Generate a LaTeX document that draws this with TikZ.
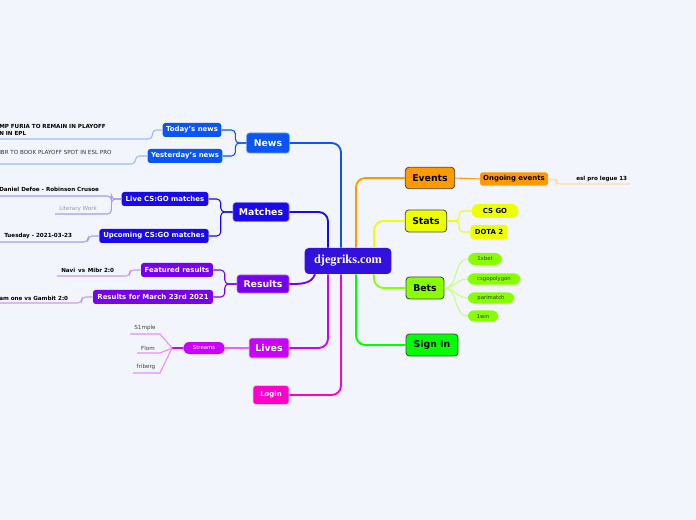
\documentclass[tikz,border=0pt]{standalone}
\usepackage{fontspec}
\setmainfont{DejaVu Sans}
\newfontfamily\hubfont{Liberation Serif}
\usetikzlibrary{positioning, calc}

\definecolor{bgcol}{HTML}{F3F5FD}
\definecolor{hubcol}{HTML}{3311DD}
\definecolor{newscol}{HTML}{0A55F5}
\definecolor{matchcol}{HTML}{1A08EE}
\definecolor{rescol}{HTML}{7700EE}
\definecolor{livecol}{HTML}{CC00FF}
\definecolor{logincol}{HTML}{FF00CC}
\definecolor{evcol}{HTML}{FF9900}
\definecolor{statcol}{HTML}{EEFF00}
\definecolor{betcol}{HTML}{88FF00}
\definecolor{signcol}{HTML}{00FF00}
\definecolor{edgecol}{HTML}{444444}

\begin{document}
\begin{tikzpicture}[
      x=0.75pt, y=-0.75pt,
      hub/.style={rectangle, rounded corners=3pt, fill=hubcol, text=white,
                  font=\hubfont\bfseries\fontsize{9.2}{10}\selectfont,
                  minimum width=65pt, minimum height=19.5pt, inner sep=1pt},
      lmain/.style={rectangle, rounded corners=2pt, fill=#1, draw=#1!60!white,
                    text=white, font=\bfseries\fontsize{7}{8}\selectfont,
                    minimum height=15pt, inner sep=1pt},
      rmain/.style={rectangle, rounded corners=2.5pt, fill=#1, draw=edgecol,
                    line width=0.6pt, text=black,
                    font=\bfseries\fontsize{7}{8}\selectfont,
                    minimum height=16pt, inner sep=1pt},
      sub/.style={rectangle, rounded corners=2pt, fill=#1, text=white,
                  font=\bfseries\fontsize{5.2}{6}\selectfont,
                  minimum height=10.5pt, inner sep=1pt},
      pill/.style={rectangle, rounded corners=5pt, fill=#1, text=black!80,
                   font=\fontsize{4}{5}\selectfont,
                   minimum height=8.5pt, inner sep=1pt},
      leaf/.style={inner sep=0pt, font=\bfseries\fontsize{4.2}{5.3}\selectfont,
                   align=left, text=black},
      thin/.style={inner sep=0pt, font=\fontsize{4.2}{5}\selectfont, text=black!75},
      trunk/.style={line width=1.4pt, rounded corners=7pt, draw=#1},
      twig/.style={line width=0.8pt, rounded corners=3pt, draw=#1}
    ]
    % Background
    \fill[bgcol] (0,0) rectangle (696,520);
    \useasboundingbox (0,0) rectangle (696,520);

    % Centre
    \node[hub] (hub) at (348,261) {djegriks.com};

    % Left branches
    \node[lmain=newscol, minimum width=32pt] (news) at (268,143) {News};
    \node[sub=newscol, minimum width=44pt] (todays) at (192,130) {Today's news};
    \node[sub=newscol, minimum width=56pt] (yesterdays) at (185,156) {Yesterday's news};
    \node[leaf, anchor=west] (furia) at (-1,129.5) {MP FURIA TO REMAIN IN PLAYOFF\\N IN EPL};
    \node[thin, anchor=west, text=black!80] (ibr) at (-1,152) {IBR TO BOOK PLAYOFF SPOT IN ESL PRO};

    \node[lmain=matchcol, minimum width=42pt, minimum height=14pt] (matches) at (261,212) {Matches};
    \node[sub=matchcol, minimum width=65pt] (live) at (165,199) {Live CS:GO matches};
    \node[sub=matchcol, minimum width=82pt] (upcoming) at (154,236) {Upcoming CS:GO matches};
    \node[leaf, anchor=west] (defoe) at (-1,189) {Daniel Defoe - Robinson Crusoe};
    \node[thin, anchor=west, text=black!40] (literary) at (59,209) {Literary Work};
    \node[leaf, anchor=west] (tuesday) at (4,236) {Tuesday - 2021-03-23};

    \node[lmain=rescol, minimum width=39pt, minimum height=13.5pt] (results) at (263,284) {Results};
    \node[sub=rescol, minimum width=54pt] (featured) at (177,270) {Featured results};
    \node[sub=rescol, minimum width=90pt] (march) at (153,297) {Results for March 23rd 2021};
    \node[leaf, anchor=west] (navi) at (61,270) {Navi\enspace vs\enspace Mibr 2:0};
    \node[leaf, anchor=west] (gambit) at (-1,298) {am one vs Gambit 2:0};

    \node[lmain=livecol, minimum width=30pt, draw=black!15] (lives) at (269,348) {Lives};
    \node[sub=livecol, rounded corners=4.5pt, minimum width=31pt, minimum height=9pt,
          font=\fontsize{4}{5}\selectfont] (streams) at (204,348) {Streams};
    \node[thin] (simple) at (145,328) {S1mple};
    \node[thin] (flom) at (148,348) {Flom};
    \node[thin] (friberg) at (146,367) {friberg};

    \node[lmain=logincol, minimum width=27pt, minimum height=14pt, draw=black!15,
          font=\bfseries\fontsize{5.2}{6}\selectfont] (login) at (271,395) {Login};

    % Right branches
    \node[rmain=evcol, minimum width=37pt] (events) at (430,178) {Events};
    \node[sub=evcol, text=black, minimum width=51pt, minimum height=10pt] (ongoing) at (514,179) {Ongoing events};
    \node[leaf, anchor=west] (esl) at (576,179) {esl pro legue 13};

    \node[rmain=statcol, minimum width=31pt, minimum height=16.5pt] (stats) at (426,221) {Stats};
    \node[sub=statcol, text=black, rounded corners=5pt, minimum width=35pt] (csgo) at (495,211) {CS GO};
    \node[sub=statcol, text=black, minimum width=28pt] (dota) at (489,232) {DOTA 2};

    \node[rmain=betcol, minimum width=28.5pt, minimum height=16.5pt] (bets) at (425,288) {Bets};
    \node[pill=betcol, minimum width=25.5pt, minimum height=9pt] (xbet) at (485,259) {1xbet};
    \node[pill=betcol, minimum width=40pt] (polygon) at (494,279) {csgopolygon};
    \node[pill=betcol, minimum width=35pt] (parimatch) at (491,298) {parimatch};
    \node[pill=betcol, minimum width=23pt] (onewin) at (483,316) {1win};

    \node[rmain=signcol, minimum width=39pt, minimum height=16.5pt] (signin) at (432,345) {Sign In};

    % Underline ends
    \coordinate (fu) at (0,139);
    \coordinate (iu) at (0,164);
    \coordinate (du) at (0,196);
    \coordinate (lu) at (55,214);
    \coordinate (tu) at (0,242);
    \coordinate (nu) at (57,276);
    \coordinate (gu) at (0,303);
    \coordinate (eu) at (630,184);
    \coordinate (sfan) at (172,348);
    \coordinate (sk1) at (160,334);
    \coordinate (sk2) at (160,353);
    \coordinate (sk3) at (160,373);
    \coordinate (su1) at (130,334);
    \coordinate (su2) at (137,353);
    \coordinate (su3) at (133,373);

    % Trunks from the centre
    \draw[trunk=newscol] ($(hub.north)+(-7,0)$) |- (news.east);
    \draw[trunk=matchcol] ($(hub.north)+(-20,0)$) |- (matches.east);
    \draw[trunk=rescol, rounded corners=0pt] ($(hub.south)+(-33,0)$) to[out=-110, in=0] (results.east);
    \draw[trunk=livecol] ($(hub.south)+(-20,0)$) |- (lives.east);
    \draw[trunk=logincol] ($(hub.south)+(-7,0)$) |- (login.east);
    \draw[trunk=evcol] ($(hub.north)+(8,0)$) |- (events.west);
    \draw[trunk=statcol] ($(hub.north)+(26,0)$) |- (stats.west);
    \draw[trunk=betcol] ($(hub.south)+(26,0)$) |- (bets.west);
    \draw[trunk=signcol] ($(hub.south)+(8,0)$) |- (signin.west);

    % News
    \draw[twig=newscol] (news.west) -- ++(-11,0) |- (todays.east);
    \draw[twig=newscol] (news.west) -- ++(-11,0) |- (yesterdays.east);
    \draw[twig=newscol!40!white] (todays.west) -- ++(-10,0) |- (fu);
    \draw[twig=newscol!40!white] (yesterdays.west) -- ++(-12,0) |- (iu);

    % Matches
    \draw[twig=matchcol] (matches.west) -- ++(-12,0) |- (live.east);
    \draw[twig=matchcol] (matches.west) -- ++(-12,0) |- (upcoming.east);
    \draw[twig=matchcol!40!white] (live.west) -- ++(-10,0) |- (du);
    \draw[twig=matchcol!40!white] (live.west) -- ++(-10,0) |- (lu);
    \draw[twig=matchcol!40!white] (upcoming.west) -- ++(-11,0) |- (tu);

    % Results
    \draw[twig=rescol] (results.west) -- ++(-12,0) |- (featured.east);
    \draw[twig=rescol] (results.west) -- ++(-12,0) |- (march.east);
    \draw[twig=rescol!40!white] (featured.west) -- ++(-11,0) |- (nu);
    \draw[twig=rescol!40!white] (march.west) -- ++(-11,0) |- (gu);

    % Lives
    \draw[twig=livecol!60!white, rounded corners=0pt] (lives.west) -- (streams.east);
    \draw[twig=livecol, rounded corners=0pt] (streams.west) -- (sfan);
    \draw[twig=livecol!45!white, rounded corners=0pt] (sfan) -- (sk1) -- (su1);
    \draw[twig=livecol!45!white, rounded corners=0pt] (sfan) -- (sk2) -- (su2);
    \draw[twig=livecol!45!white, rounded corners=0pt] (sfan) -- (sk3) -- (su3);

    % Events
    \draw[twig=evcol] (events.east) -- (ongoing.west);
    \draw[twig=evcol!35!white] (ongoing.east) -- ++(8,0) |- (eu);

    % Stats
    \draw[twig=statcol] (stats.east) -- ++(12,0) |- (csgo.west);
    \draw[twig=statcol] (stats.east) -- ++(12,0) |- (dota.west);

    % Bets
    \foreach \pick in {xbet, polygon, parimatch, onewin}
      \draw[twig=betcol!50!white] (bets.east) to[out=0, in=180] (\pick.west);
  \end{tikzpicture}
\end{document}
